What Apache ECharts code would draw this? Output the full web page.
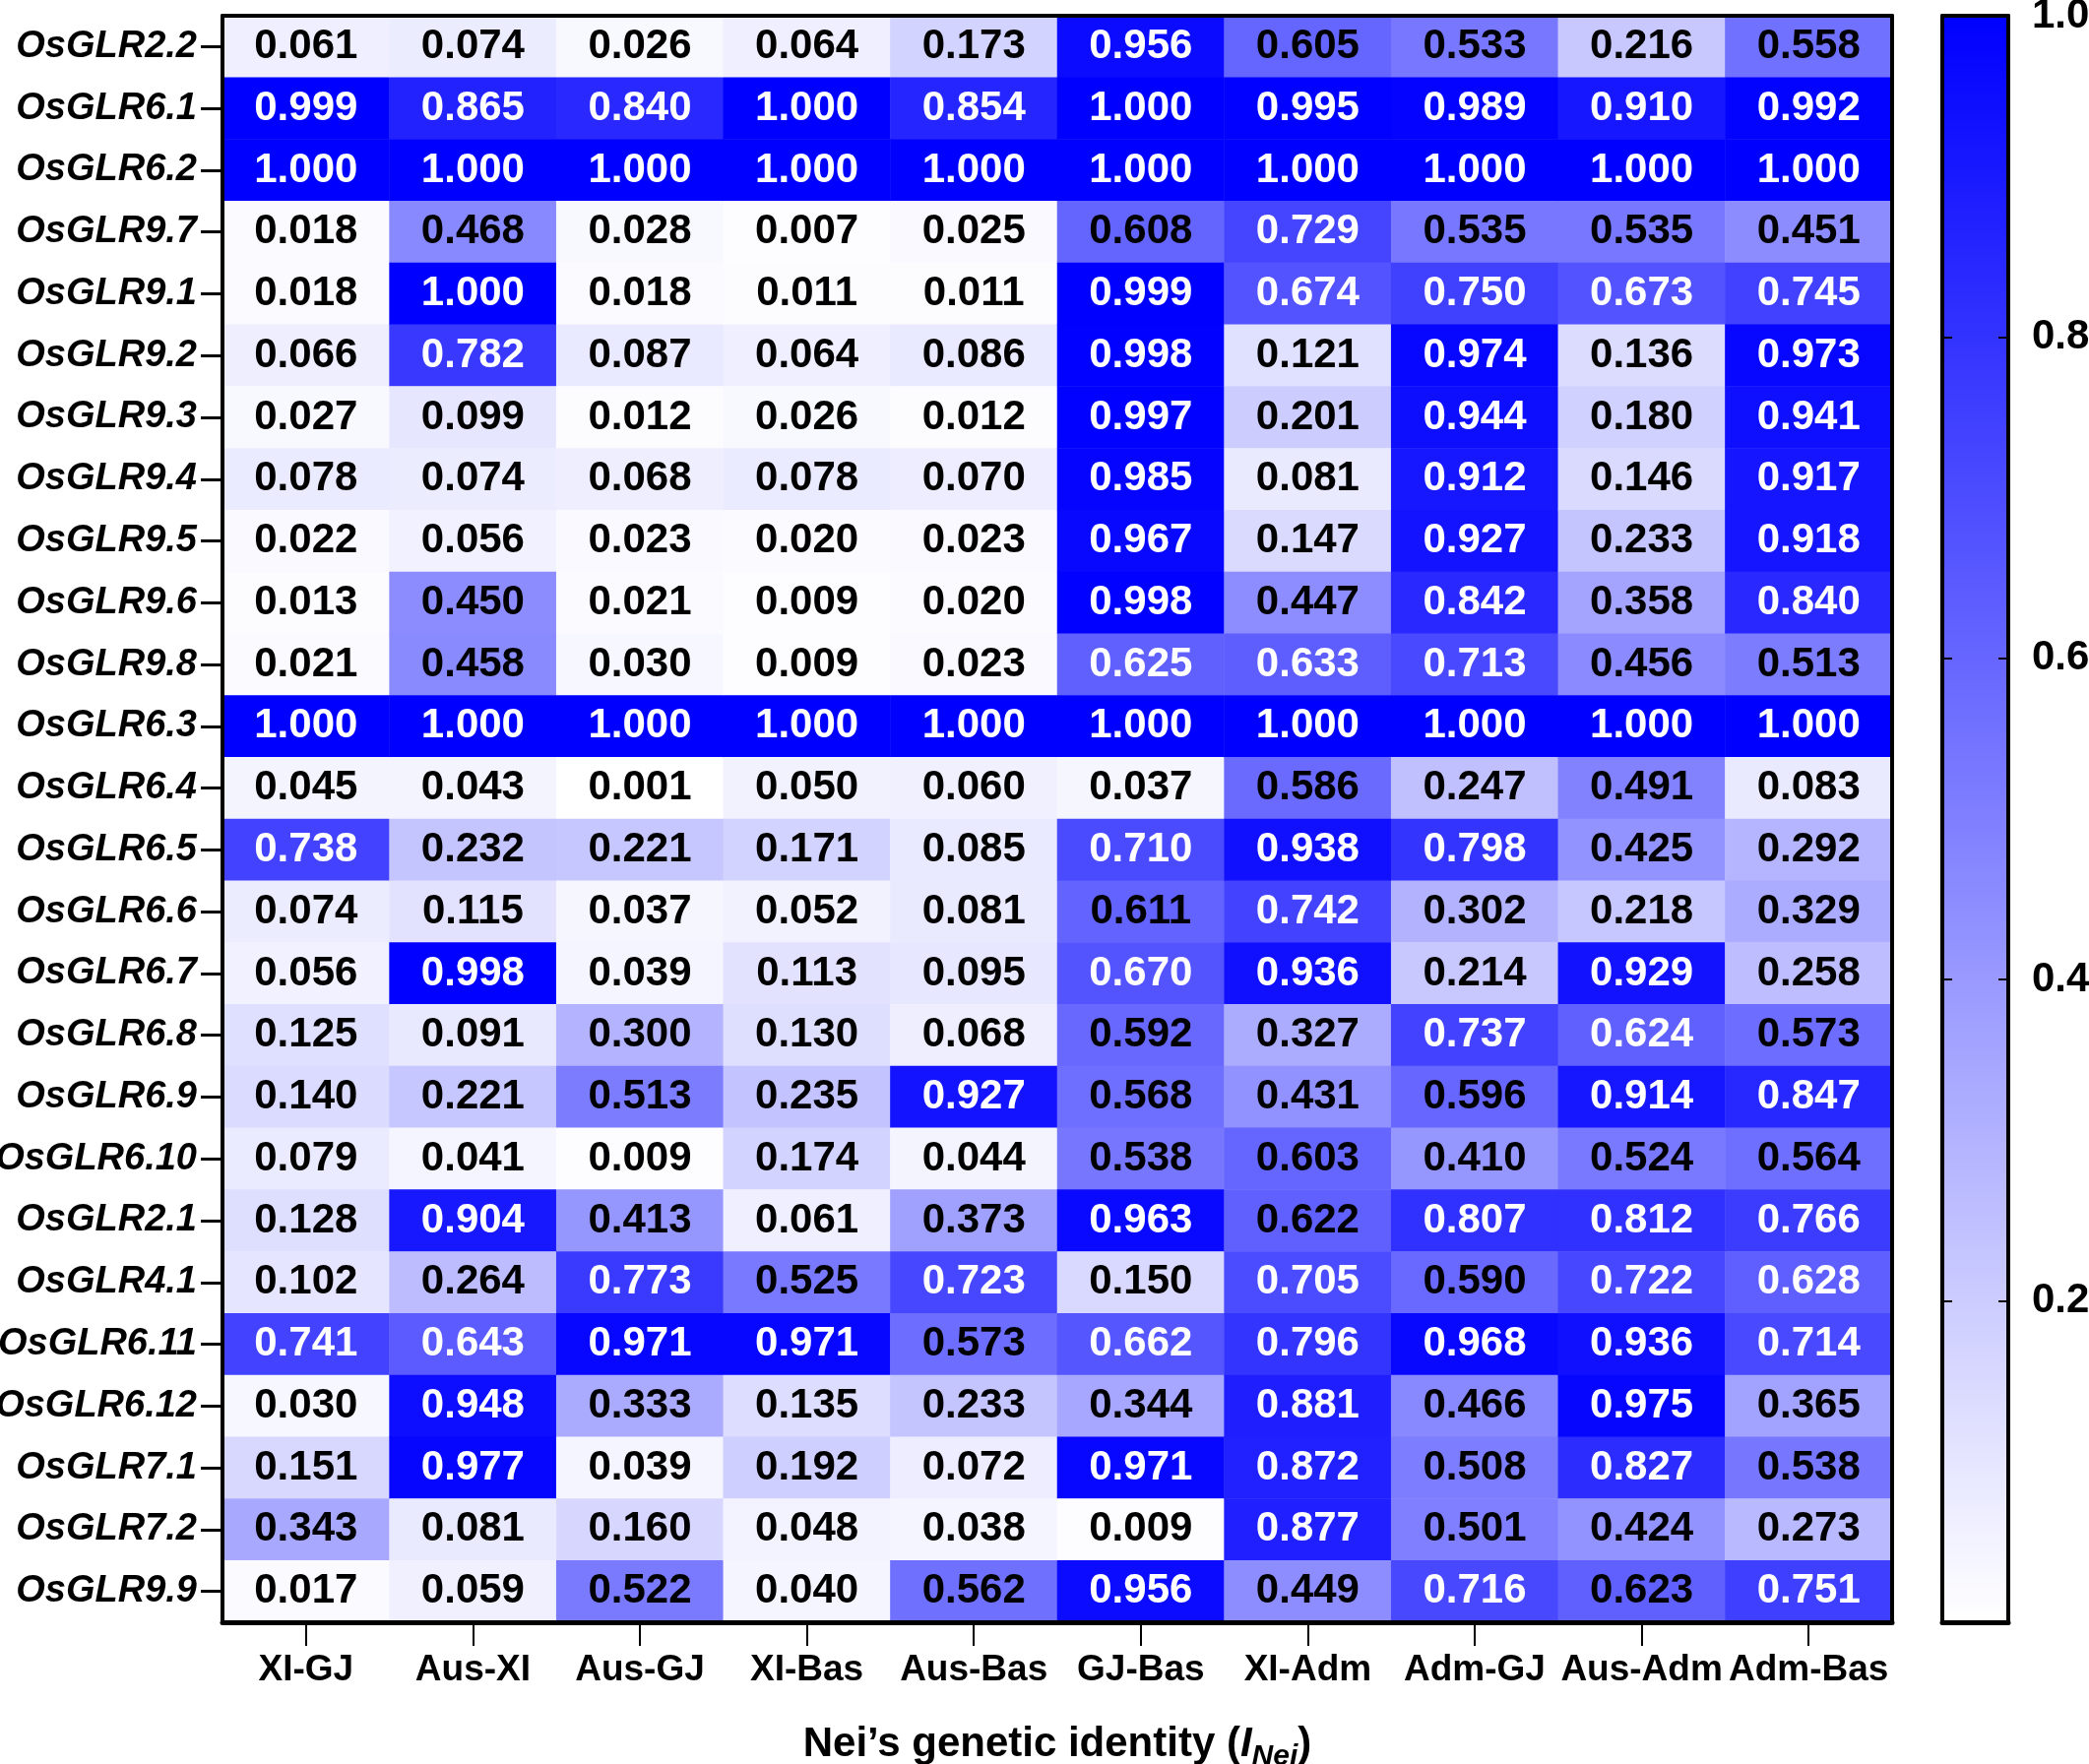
<!DOCTYPE html>
<html>
<head>
<meta charset="utf-8">
<title>Nei's genetic identity</title>
<script src="https://cdn.jsdelivr.net/npm/echarts@6/dist/echarts.min.js"></script>
<style>
  html, body { margin: 0; padding: 0; background: #fff; }
  #chart { width: 2122px; height: 1792px; }
</style>
</head>
<body>
<div id="chart"></div>
<script>
// genes, top to bottom
const genes = ['OsGLR2.2', 'OsGLR6.1', 'OsGLR6.2', 'OsGLR9.7', 'OsGLR9.1', 'OsGLR9.2', 'OsGLR9.3',
  'OsGLR9.4', 'OsGLR9.5', 'OsGLR9.6', 'OsGLR9.8', 'OsGLR6.3', 'OsGLR6.4', 'OsGLR6.5', 'OsGLR6.6',
  'OsGLR6.7', 'OsGLR6.8', 'OsGLR6.9', 'OsGLR6.10', 'OsGLR2.1', 'OsGLR4.1', 'OsGLR6.11', 'OsGLR6.12',
  'OsGLR7.1', 'OsGLR7.2', 'OsGLR9.9']
const pairs = ['XI-GJ', 'Aus-XI', 'Aus-GJ', 'XI-Bas', 'Aus-Bas', 'GJ-Bas', 'XI-Adm', 'Adm-GJ', 'Aus-Adm', 'Adm-Bas']

// one column per population pair, same order as genes
const xiGJ   = [0.061, 0.999, 1.000, 0.018, 0.018, 0.066, 0.027, 0.078, 0.022, 0.013, 0.021, 1.000, 0.045,
  0.738, 0.074, 0.056, 0.125, 0.140, 0.079, 0.128, 0.102, 0.741, 0.030, 0.151, 0.343, 0.017]
const ausXI  = [0.074, 0.865, 1.000, 0.468, 1.000, 0.782, 0.099, 0.074, 0.056, 0.450, 0.458, 1.000, 0.043,
  0.232, 0.115, 0.998, 0.091, 0.221, 0.041, 0.904, 0.264, 0.643, 0.948, 0.977, 0.081, 0.059]
const ausGJ  = [0.026, 0.840, 1.000, 0.028, 0.018, 0.087, 0.012, 0.068, 0.023, 0.021, 0.030, 1.000, 0.001,
  0.221, 0.037, 0.039, 0.300, 0.513, 0.009, 0.413, 0.773, 0.971, 0.333, 0.039, 0.160, 0.522]
const xiBas  = [0.064, 1.000, 1.000, 0.007, 0.011, 0.064, 0.026, 0.078, 0.020, 0.009, 0.009, 1.000, 0.050,
  0.171, 0.052, 0.113, 0.130, 0.235, 0.174, 0.061, 0.525, 0.971, 0.135, 0.192, 0.048, 0.040]
const ausBas = [0.173, 0.854, 1.000, 0.025, 0.011, 0.086, 0.012, 0.070, 0.023, 0.020, 0.023, 1.000, 0.060,
  0.085, 0.081, 0.095, 0.068, 0.927, 0.044, 0.373, 0.723, 0.573, 0.233, 0.072, 0.038, 0.562]
const gjBas  = [0.956, 1.000, 1.000, 0.608, 0.999, 0.998, 0.997, 0.985, 0.967, 0.998, 0.625, 1.000, 0.037,
  0.710, 0.611, 0.670, 0.592, 0.568, 0.538, 0.963, 0.150, 0.662, 0.344, 0.971, 0.009, 0.956]
const xiAdm  = [0.605, 0.995, 1.000, 0.729, 0.674, 0.121, 0.201, 0.081, 0.147, 0.447, 0.633, 1.000, 0.586,
  0.938, 0.742, 0.936, 0.327, 0.431, 0.603, 0.622, 0.705, 0.796, 0.881, 0.872, 0.877, 0.449]
const admGJ  = [0.533, 0.989, 1.000, 0.535, 0.750, 0.974, 0.944, 0.912, 0.927, 0.842, 0.713, 1.000, 0.247,
  0.798, 0.302, 0.214, 0.737, 0.596, 0.410, 0.807, 0.590, 0.968, 0.466, 0.508, 0.501, 0.716]
const ausAdm = [0.216, 0.910, 1.000, 0.535, 0.673, 0.136, 0.180, 0.146, 0.233, 0.358, 0.456, 1.000, 0.491,
  0.425, 0.218, 0.929, 0.624, 0.914, 0.524, 0.812, 0.722, 0.936, 0.975, 0.827, 0.424, 0.623]
const admBas = [0.558, 0.992, 1.000, 0.451, 0.745, 0.973, 0.941, 0.917, 0.918, 0.840, 0.513, 1.000, 0.083,
  0.292, 0.329, 0.258, 0.573, 0.847, 0.564, 0.766, 0.628, 0.714, 0.365, 0.538, 0.273, 0.751]

const columns = [xiGJ, ausXI, ausGJ, xiBas, ausBas, gjBas, xiAdm, admGJ, ausAdm, admBas]
const colorbarTicks = [0.2, 0.4, 0.6, 0.8, 1.0]

const FONT = '"Liberation Sans", Arial, sans-serif'

// heatmap cells, white numbers on the darker cells
const cells = []
columns.forEach((col, x) => {
  col.forEach((v, y) => {
    cells.push({
      value: [x, y, v],
      label: { color: v >= 0.624 ? '#ffffff' : '#000000' }
    })
  })
})

const frameAxis = (gridIndex, position, width) => ({
  gridIndex: gridIndex,
  type: 'value',
  position: position,
  min: 0,
  max: 1,
  z: 10,
  axisLine: { show: true, onZero: false, lineStyle: { color: '#000', width: width } },
  axisTick: { show: false },
  axisLabel: { show: false },
  splitLine: { show: false }
})

const chart = echarts.init(document.getElementById('chart'))
chart.setOption({
  animation: false,
  backgroundColor: '#ffffff',
  textStyle: { fontFamily: FONT },
  grid: [
    { left: 226, top: 16, width: 1696, height: 1632, containLabel: false, outerBoundsMode: 'none' },
    { left: 1973, top: 16, width: 67, height: 1632, containLabel: false, outerBoundsMode: 'none' }
  ],
  xAxis: [
    {
      gridIndex: 0,
      type: 'category',
      data: pairs,
      position: 'bottom',
      z: 10,
      axisLine: { show: true, lineStyle: { color: '#000', width: 5 } },
      axisTick: { show: true, alignWithLabel: true, interval: 0, length: 24, lineStyle: { color: '#000', width: 2 } },
      axisLabel: { interval: 0, margin: 30, color: '#000', fontSize: 37, fontWeight: 'bold', fontFamily: FONT },
      splitLine: { show: false },
      name: '{a|Nei\u2019s genetic identity (}{i|I}{s|Nei}{a|)}',
      nameLocation: 'middle',
      nameGap: 96,
      nameTextStyle: {
        rich: {
          a: { fontSize: 42, fontWeight: 'bold', color: '#000', fontFamily: FONT, lineHeight: 56, verticalAlign: 'middle' },
          i: { fontSize: 42, fontWeight: 'bold', fontStyle: 'italic', color: '#000', fontFamily: FONT, lineHeight: 56, verticalAlign: 'middle' },
          s: { fontSize: 30, fontWeight: 'bold', fontStyle: 'italic', color: '#000', fontFamily: FONT, lineHeight: 56, verticalAlign: 'bottom' }
        }
      }
    },
    frameAxis(0, 'top', 4),
    {
      gridIndex: 1,
      type: 'category',
      data: [''],
      position: 'bottom',
      z: 10,
      axisLine: { show: true, lineStyle: { color: '#000', width: 5 } },
      axisTick: { show: false },
      axisLabel: { show: false }
    },
    frameAxis(1, 'top', 4)
  ],
  yAxis: [
    {
      gridIndex: 0,
      type: 'category',
      data: genes,
      inverse: true,
      position: 'left',
      z: 10,
      axisLine: { show: true, lineStyle: { color: '#000', width: 4 } },
      axisTick: { show: true, alignWithLabel: true, interval: 0, length: 22, lineStyle: { color: '#000', width: 3 } },
      axisLabel: { interval: 0, margin: 26, color: '#000', fontSize: 38, fontWeight: 'bold', fontStyle: 'italic', fontFamily: FONT },
      splitLine: { show: false }
    },
    frameAxis(0, 'right', 4),
    {
      gridIndex: 1,
      type: 'value',
      position: 'right',
      min: 0,
      max: 1,
      interval: 0.2,
      z: 10,
      axisLine: { show: true, onZero: false, lineStyle: { color: '#000', width: 4 } },
      axisTick: { show: true, inside: true, length: 10, lineStyle: { color: '#000', width: 2 } },
      axisLabel: {
        margin: 24,
        color: '#000',
        fontSize: 42,
        fontWeight: 'bold',
        fontFamily: FONT,
        formatter: v => colorbarTicks.some(t => Math.abs(t - v) < 1e-6) ? v.toFixed(1) : ''
      },
      splitLine: { show: false }
    },
    {
      gridIndex: 1,
      type: 'value',
      position: 'left',
      min: 0,
      max: 1,
      interval: 0.2,
      z: 10,
      axisLine: { show: true, onZero: false, lineStyle: { color: '#000', width: 4 } },
      axisTick: { show: true, inside: true, length: 10, lineStyle: { color: '#000', width: 2 } },
      axisLabel: { show: false },
      splitLine: { show: false }
    }
  ],
  visualMap: {
    show: false,
    seriesIndex: 0,
    min: 0,
    max: 1,
    inRange: { color: ['#ffffff', '#0000ff'] }
  },
  series: [
    {
      type: 'heatmap',
      xAxisIndex: 0,
      yAxisIndex: 0,
      data: cells,
      itemStyle: { borderWidth: 0 },
      label: {
        show: true,
        fontSize: 42,
        fontWeight: 'bold',
        fontFamily: FONT,
        formatter: p => p.value[2].toFixed(3)
      },
      emphasis: { disabled: true }
    },
    {
      // colour scale bar
      type: 'bar',
      xAxisIndex: 2,
      yAxisIndex: 2,
      data: [1],
      barWidth: '100%',
      silent: true,
      itemStyle: {
        color: new echarts.graphic.LinearGradient(0, 0, 0, 1, [
          { offset: 0, color: '#0000ff' },
          { offset: 1, color: '#ffffff' }
        ])
      }
    }
  ]
})
</script>
</body>
</html>
